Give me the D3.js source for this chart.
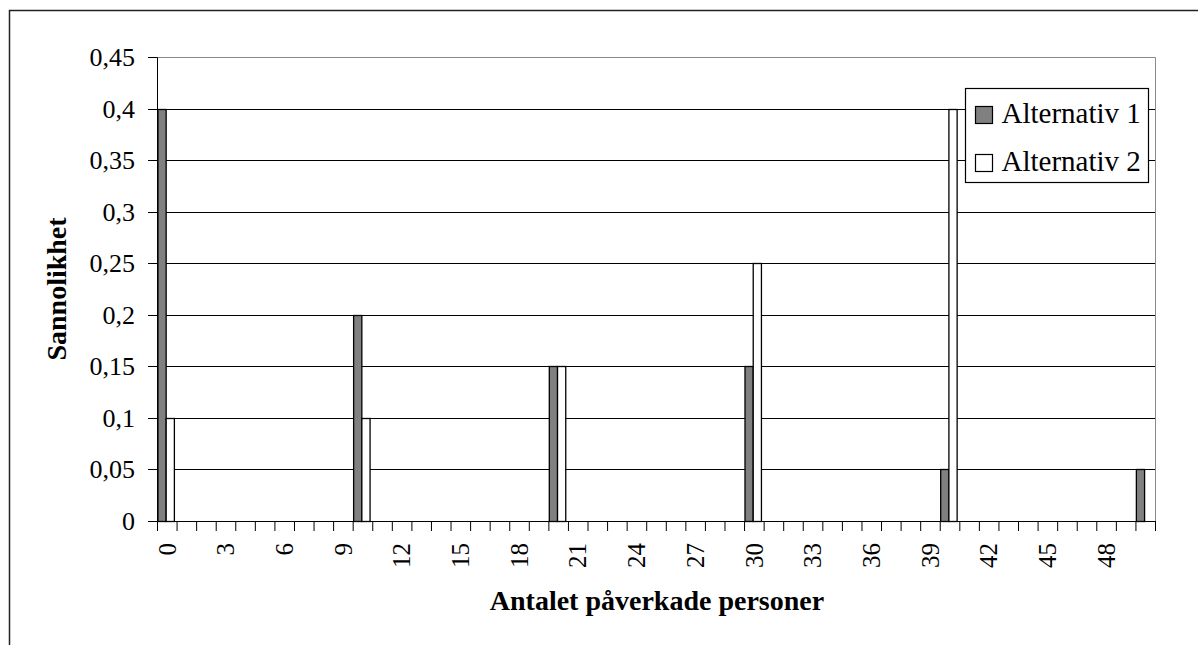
<!DOCTYPE html>
<html>
<head>
<meta charset="utf-8">
<script src="https://cdn.jsdelivr.net/npm/d3@7/dist/d3.min.js"></script>
<style>
  html, body { margin: 0; padding: 0; background: #fff; }
  svg { display: block; }
  text { font-family: "Liberation Serif", "Times New Roman", serif; fill: #000; }
</style>
</head>
<body>
<svg id="chart" width="1198" height="645"></svg>
<script>
// Number of affected persons (0..50)
const categories = [
  0, 1, 2, 3, 4, 5, 6, 7, 8, 9,
  10, 11, 12, 13, 14, 15, 16, 17, 18, 19,
  20, 21, 22, 23, 24, 25, 26, 27, 28, 29,
  30, 31, 32, 33, 34, 35, 36, 37, 38, 39,
  40, 41, 42, 43, 44, 45, 46, 47, 48, 49,
  50
];

// Probability per category
const alternativ1 = [
  0.40, 0, 0, 0, 0, 0, 0, 0, 0, 0,
  0.20, 0, 0, 0, 0, 0, 0, 0, 0, 0,
  0.15, 0, 0, 0, 0, 0, 0, 0, 0, 0,
  0.15, 0, 0, 0, 0, 0, 0, 0, 0, 0,
  0.05, 0, 0, 0, 0, 0, 0, 0, 0, 0,
  0.05
];
const alternativ2 = [
  0.10, 0, 0, 0, 0, 0, 0, 0, 0, 0,
  0.10, 0, 0, 0, 0, 0, 0, 0, 0, 0,
  0.15, 0, 0, 0, 0, 0, 0, 0, 0, 0,
  0.25, 0, 0, 0, 0, 0, 0, 0, 0, 0,
  0.40, 0, 0, 0, 0, 0, 0, 0, 0, 0,
  0
];

const seriesNames = ["Alternativ 1", "Alternativ 2"];
const seriesFill = ["#808080", "#ffffff"];

const yTicks = [0, 0.05, 0.1, 0.15, 0.2, 0.25, 0.3, 0.35, 0.4, 0.45];
const xTickLabels = ["0", "3", "6", "9", "12", "15", "18", "21", "24", "27",
                     "30", "33", "36", "39", "42", "45", "48"];

const xTitle = "Antalet påverkade personer";
const yTitle = "Sannolikhet";

const svg = d3.select("#chart");

// outer chart frame
svg.append("rect")
  .attr("x", 9.5).attr("y", 10.5)
  .attr("width", 1400).attr("height", 1000)
  .attr("fill", "none").attr("stroke", "#222").attr("stroke-width", 1.5);

const plot = { left: 157, right: 1155, top: 57, bottom: 521 };

const x = d3.scaleBand()
  .domain(categories)
  .range([plot.left, plot.right])
  .padding(0);

const xs = d3.scaleBand()
  .domain(seriesNames)
  .range([0, x.bandwidth()])
  .paddingInner(0)
  .paddingOuter(0.19)
  .align(0.3);

const y = d3.scaleLinear()
  .domain([0, 0.45])
  .rangeRound([plot.bottom, plot.top]);

const commaFmt = d3.formatLocale({ decimal: ",", thousands: " ", grouping: [3], currency: ["", " kr"] }).format("~g");

// horizontal gridlines
svg.append("g")
  .attr("transform", `translate(${plot.left},0)`)
  .call(d3.axisLeft(y).tickValues(yTicks.filter(v => v > 0 && v < 0.45))
    .tickSize(-(plot.right - plot.left)).tickFormat(""))
  .call(g => g.select(".domain").remove())
  .call(g => g.selectAll("line").attr("stroke", "#000").attr("stroke-width", 1));

// plot-area border (top and right)
const border = d3.path();
border.moveTo(plot.left, y(0.45) + 0.5);
border.lineTo(plot.right + 0.5, y(0.45) + 0.5);
border.lineTo(plot.right + 0.5, plot.bottom + 0.5);
svg.append("path").attr("d", border.toString())
  .attr("fill", "none").attr("stroke", "#8a8a8a").attr("stroke-width", 1);

// bars
const seriesData = [alternativ1, alternativ2];
seriesData.forEach((vals, si) => {
  svg.append("g")
    .selectAll("rect")
    .data(categories.map((c, i) => ({ c, v: vals[i] })).filter(d => d.v > 0))
    .join("rect")
    .attr("x", d => x(d.c) + xs(seriesNames[si]))
    .attr("y", d => y(d.v) + 0.5)
    .attr("width", xs.bandwidth())
    .attr("height", d => y(0) - y(d.v))
    .attr("fill", seriesFill[si])
    .attr("stroke", "#000")
    .attr("stroke-width", 1.3);
});

// y axis
svg.append("g")
  .attr("transform", `translate(${plot.left},0)`)
  .call(d3.axisLeft(y).tickValues(yTicks).tickSize(9).tickPadding(13).tickFormat(commaFmt))
  .call(g => g.selectAll("line, path").attr("stroke", "#000"))
  .call(g => g.selectAll("text")
    .style("font-family", '"Liberation Serif", serif')
    .style("font-size", "26px")
    .attr("fill", "#000"));

// x axis: ticks between categories
const xEdge = d3.scaleLinear()
  .domain([0, categories.length])
  .range([plot.left, plot.right]);

svg.append("g")
  .attr("transform", `translate(0,${plot.bottom})`)
  .call(d3.axisBottom(xEdge).tickValues(d3.range(categories.length + 1))
    .tickSize(10).tickSizeOuter(0).tickFormat(""))
  .call(g => g.selectAll("line, path").attr("stroke", "#000"));

// x tick labels at category centres
svg.append("g")
  .attr("transform", `translate(0,${plot.bottom})`)
  .call(d3.axisBottom(x).tickValues(xTickLabels.map(Number)).tickSize(0).tickFormat((d, i) => xTickLabels[i]))
  .call(g => g.select(".domain").remove())
  .call(g => g.selectAll("text")
    .attr("transform", "rotate(-90)")
    .attr("text-anchor", "end")
    .attr("x", -22)
    .attr("y", 0)
    .attr("dy", "0.35em")
    .style("font-family", '"Liberation Serif", serif')
    .style("font-size", "25px")
    .attr("fill", "#000"));

// axis titles
svg.append("text")
  .attr("x", (plot.left + plot.right) / 2 + 1)
  .attr("y", 610)
  .attr("text-anchor", "middle")
  .style("font-size", "28px")
  .style("font-weight", "bold")
  .text(xTitle);

svg.append("text")
  .attr("transform", `translate(66,${(plot.top + plot.bottom) / 2}) rotate(-90)`)
  .attr("text-anchor", "middle")
  .style("font-size", "28px")
  .style("font-weight", "bold")
  .text(yTitle);

// legend
const legend = svg.append("g").attr("transform", "translate(965.5,88.5)");
legend.append("rect")
  .attr("width", 183).attr("height", 94)
  .attr("fill", "#fff").attr("stroke", "#000").attr("stroke-width", 1.2);

const rows = legend.selectAll("g.row")
  .data(seriesNames)
  .join("g")
  .attr("class", "row")
  .attr("transform", (d, i) => `translate(10,${18 + i * 48})`);

rows.append("rect")
  .attr("width", 17).attr("height", 17)
  .attr("fill", (d, i) => seriesFill[i])
  .attr("stroke", "#000").attr("stroke-width", 1.2);

rows.append("text")
  .attr("x", 26)
  .attr("y", 16)
  .style("font-size", "29px")
  .text(d => d);
</script>
</body>
</html>
